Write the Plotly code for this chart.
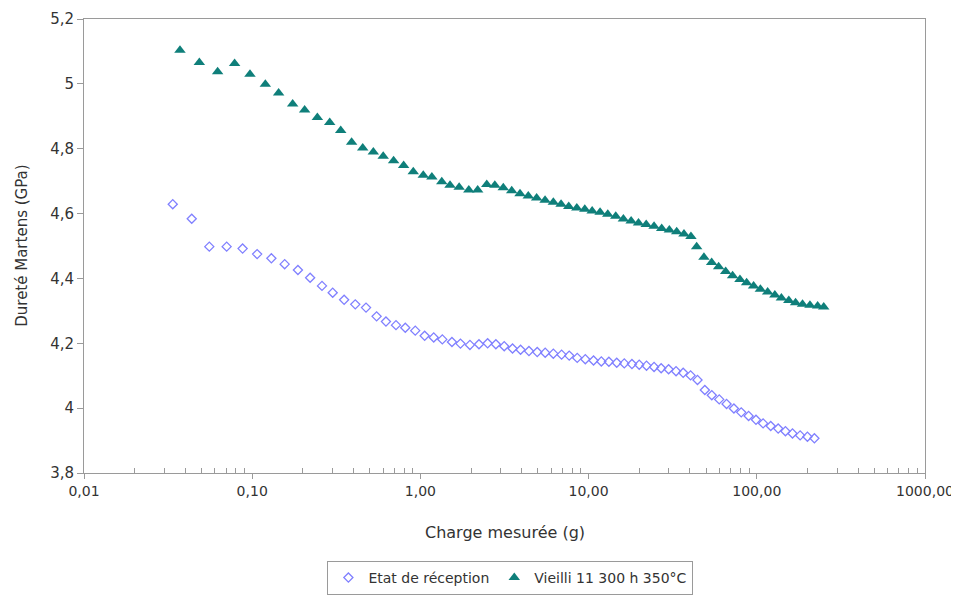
import plotly.graph_objects as go

# Etat de réception (open diamonds)
x_etat = [0.0337, 0.0437, 0.0556, 0.0705, 0.0877, 0.107, 0.130, 0.156, 0.187, 0.221,
          0.260, 0.301, 0.352, 0.410, 0.475, 0.549, 0.624, 0.716, 0.813, 0.932,
          1.06, 1.20, 1.35, 1.54, 1.73, 1.97, 2.23, 2.51, 2.81, 3.15,
          3.53, 3.94, 4.42, 4.95, 5.52, 6.17, 6.91, 7.67, 8.56, 9.56,
          10.7, 11.9, 13.2, 14.7, 16.3, 18.1, 20.0, 22.1, 24.5, 27.0,
          29.9, 33.1, 36.5, 40.4, 44.4, 49.1, 54.0, 59.8, 66.1, 73.1,
          80.8, 89.4, 98.9, 109, 121, 134, 148, 163, 181, 200, 220]
y_etat = [4.629, 4.584, 4.498, 4.498, 4.492, 4.475, 4.462, 4.444, 4.426, 4.402,
          4.377, 4.356, 4.334, 4.320, 4.310, 4.283, 4.267, 4.256, 4.248, 4.239,
          4.223, 4.218, 4.212, 4.204, 4.199, 4.195, 4.197, 4.200, 4.197, 4.191,
          4.184, 4.180, 4.176, 4.173, 4.171, 4.168, 4.165, 4.162, 4.155, 4.151,
          4.147, 4.144, 4.143, 4.140, 4.138, 4.136, 4.134, 4.131, 4.127, 4.123,
          4.120, 4.114, 4.109, 4.101, 4.087, 4.056, 4.040, 4.027, 4.013, 3.999,
          3.987, 3.976, 3.964, 3.953, 3.945, 3.937, 3.929, 3.922, 3.916, 3.912, 3.907]

# Vieilli 11 300 h 350°C (filled triangles)
x_vieilli = [0.0372, 0.0485, 0.0623, 0.0786, 0.097, 0.1197, 0.1436, 0.174, 0.205, 0.244,
             0.289, 0.336, 0.390, 0.454, 0.525, 0.601, 0.693, 0.795, 0.907, 1.04,
             1.17, 1.34, 1.50, 1.70, 1.94, 2.19, 2.48, 2.77, 3.11, 3.49,
             3.91, 4.38, 4.91, 5.51, 6.17, 6.86, 7.62, 8.51, 9.49, 10.5,
             11.7, 13.0, 14.5, 16.1, 17.9, 19.8, 22.0, 24.5, 27.2, 30.2,
             33.4, 36.9, 40.6, 43.9, 48.5, 53.9, 59.3, 65.3, 71.8, 79.4,
             87.0, 95.7, 105, 116, 128, 140, 155, 170, 187, 207, 230, 250]
y_vieilli = [5.104, 5.066, 5.037, 5.063, 5.030, 4.999, 4.972, 4.938, 4.919, 4.896,
             4.881, 4.856, 4.820, 4.802, 4.790, 4.777, 4.763, 4.748, 4.729, 4.718,
             4.713, 4.698, 4.687, 4.681, 4.673, 4.673, 4.690, 4.687, 4.680, 4.670,
             4.661, 4.654, 4.648, 4.641, 4.635, 4.629, 4.622, 4.617, 4.613, 4.608,
             4.604, 4.598, 4.592, 4.583, 4.577, 4.571, 4.566, 4.561, 4.554, 4.549,
             4.544, 4.537, 4.529, 4.498, 4.465, 4.449, 4.436, 4.421, 4.408, 4.397,
             4.387, 4.377, 4.367, 4.358, 4.349, 4.340, 4.332, 4.325, 4.320, 4.317, 4.315, 4.312]

x_tickvals = [0.01, 0.1, 1, 10, 100, 1000]
x_ticktext = ["0,01", "0,10", "1,00", "10,00", "100,00", "1000,00"]
y_tickvals = [3.8, 4.0, 4.2, 4.4, 4.6, 4.8, 5.0, 5.2]
y_ticktext = ["3,8", "4", "4,2", "4,4", "4,6", "4,8", "5", "5,2"]
minor_vals = [m * 10 ** e for e in range(-2, 3) for m in range(2, 10)]

font_family = "DejaVu Sans, Liberation Sans, Arial, sans-serif"
axis_color = "#9a9a9a"
text_color = "#333333"

fig = go.Figure()
fig.add_trace(go.Scatter(
    x=x_etat, y=y_etat, mode="markers", name="Etat de réception",
    marker=dict(symbol="diamond-open", size=7, color="#8080ff", line=dict(width=1.3, color="#8080ff")),
))
fig.add_trace(go.Scatter(
    x=x_vieilli, y=y_vieilli, mode="markers", name="Vieilli 11 300 h 350°C",
    marker=dict(symbol="triangle-up", size=10, color="#0f7f7a"),
))

# The page body has an 8px margin, so the figure is sized to fit the window.
fig.update_layout(
    width=951, height=587,
    margin=dict(l=76, r=34, t=11, b=122, autoexpand=False),
    paper_bgcolor="white", plot_bgcolor="white",
    font=dict(family=font_family, size=15, color=text_color),
    showlegend=True,
    legend=dict(
        orientation="h", x=0.507, xanchor="center",
        yref="container", y=0.058, yanchor="top",
        bordercolor="#9a9a9a", borderwidth=1, bgcolor="white",
        font=dict(size=14, color=text_color),
    ),
    xaxis=dict(
        type="log", range=[-2, 3], automargin=False,
        tickmode="array", tickvals=x_tickvals, ticktext=x_ticktext,
        ticks="outside", ticklen=5, tickcolor=axis_color,
        showline=True, linecolor=axis_color, linewidth=1, mirror=True,
        showgrid=False, zeroline=False,
        minor=dict(tickmode="array", tickvals=minor_vals, ticks="inside", ticklen=5,
                   tickcolor=axis_color, showgrid=False),
        tickfont=dict(size=14, color=text_color),
    ),
    yaxis=dict(
        range=[3.8, 5.2], automargin=False,
        tickmode="array", tickvals=y_tickvals, ticktext=y_ticktext,
        ticks="outside", ticklen=6, tickcolor=axis_color,
        showline=True, linecolor=axis_color, linewidth=1, mirror=True,
        showgrid=False, zeroline=False,
        tickfont=dict(size=15, color=text_color),
    ),
    annotations=[
        dict(text="Charge mesurée (g)", xref="paper", yref="paper", x=0.5, y=-0.132,
             xanchor="center", yanchor="middle", showarrow=False,
             font=dict(size=16, color=text_color)),
        dict(text="Dureté Martens (GPa)", xref="paper", yref="paper", x=-0.074, y=0.5,
             xanchor="center", yanchor="middle", textangle=-90, showarrow=False,
             font=dict(size=15, color=text_color)),
    ],
)

fig.write_html("out.html")
